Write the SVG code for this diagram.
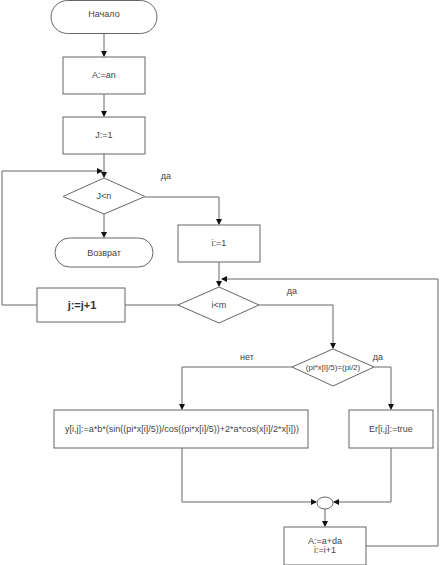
<svg xmlns="http://www.w3.org/2000/svg" width="442" height="565" viewBox="0 0 442 565">
<style>
.s{fill:#fff;stroke:#666;stroke-width:1}
.c{fill:none;stroke:#666;stroke-width:1}
.t{font-family:"Liberation Sans",Arial,sans-serif;font-size:9px;fill:#444;text-anchor:middle;dominant-baseline:central}
.b{font-size:11px;font-weight:bold;fill:#333}
.sm{font-size:8px}
</style>
<defs>
<marker id="a" markerWidth="6" markerHeight="6" refX="5" refY="3" orient="auto" markerUnits="userSpaceOnUse">
<path d="M0,0 L6,3 L0,6 z" fill="#111"/>
</marker>
</defs>
<g id="connectors">
<path class="c" d="M104,33 V56" marker-end="url(#a)"/>
<path class="c" d="M104,94 V116" marker-end="url(#a)"/>
<path class="c" d="M104,154 V177" marker-end="url(#a)"/>
<path class="c" d="M37,305 H2 V171 H102" marker-end="url(#a)"/>
<path class="c" d="M145,197 H219 V224" marker-end="url(#a)"/>
<path class="c" d="M104,214 V237" marker-end="url(#a)"/>
<path class="c" d="M219,262 V286" marker-end="url(#a)"/>
<path class="c" d="M178,305 H125"/>
<path class="c" d="M259,305 H333 V348" marker-end="url(#a)"/>
<path class="c" d="M292,367 H182 V409" marker-end="url(#a)"/>
<path class="c" d="M374,367 H391 V409" marker-end="url(#a)"/>
<path class="c" d="M182,448 V502 H316" marker-end="url(#a)"/>
<path class="c" d="M391,448 V502 H334" marker-end="url(#a)"/>
<path class="c" d="M325,509 V526" marker-end="url(#a)"/>
<path class="c" d="M366,546 H438 V279 H222" marker-end="url(#a)"/>
<text class="t" x="166" y="176">да</text>
<text class="t" x="292" y="291">да</text>
<text class="t" x="247" y="357">нет</text>
<text class="t" x="378" y="357">да</text>
</g>
<g id="start"><rect class="s" x="51" y="0.5" width="106" height="33" rx="16.5"/><text class="t" x="104" y="14">Начало</text></g>
<g id="a_an"><rect class="s" x="63" y="57" width="82" height="37"/><text class="t" x="104" y="75">A:=an</text></g>
<g id="j_1"><rect class="s" x="63" y="117" width="82" height="37"/><text class="t" x="104" y="135">J:=1</text></g>
<g id="j_lt_n"><polygon class="s" points="104,178 145,196.5 104,214 63,196.5"/><text class="t" x="104" y="196">J&lt;n</text></g>
<g id="return"><rect class="s" x="55" y="238" width="98" height="29" rx="14.5"/><text class="t" x="104" y="253">Возврат</text></g>
<g id="i_1"><rect class="s" x="178" y="225" width="82" height="37"/><text class="t" x="219" y="243">i:=1</text></g>
<g id="i_lt_m"><polygon class="s" points="219,287 259,305 219,323 178,305"/><text class="t" x="219" y="305">i&lt;m</text></g>
<g id="j_inc"><rect class="s" x="37" y="288" width="88" height="34"/><text class="t b" x="82" y="305">j:=j+1</text></g>
<g id="cond"><polygon class="s" points="333,349 374,367 333,386 292,367"/><text class="t sm" x="333" y="367">(pi*x[i]/5)=(pi/2)</text></g>
<g id="y_calc"><rect class="s" x="54" y="410" width="254" height="38"/><text class="t" x="182" y="429">y[i,j]:=a*b*(sin((pi*x[i]/5))/cos((pi*x[i]/5))+2*a*cos(x[i]/2*x[i]))</text></g>
<g id="er"><rect class="s" x="349" y="410" width="84" height="38"/><text class="t" x="391" y="429">Er[i,j]:=true</text></g>
<g id="join"><ellipse class="s" cx="325" cy="503" rx="8" ry="6"/></g>
<g id="a_inc"><rect class="s" x="284" y="527" width="82" height="38"/><text class="t" x="325" y="541">A:=a+da</text><text class="t" x="325" y="550">i:=i+1</text></g>
</svg>
